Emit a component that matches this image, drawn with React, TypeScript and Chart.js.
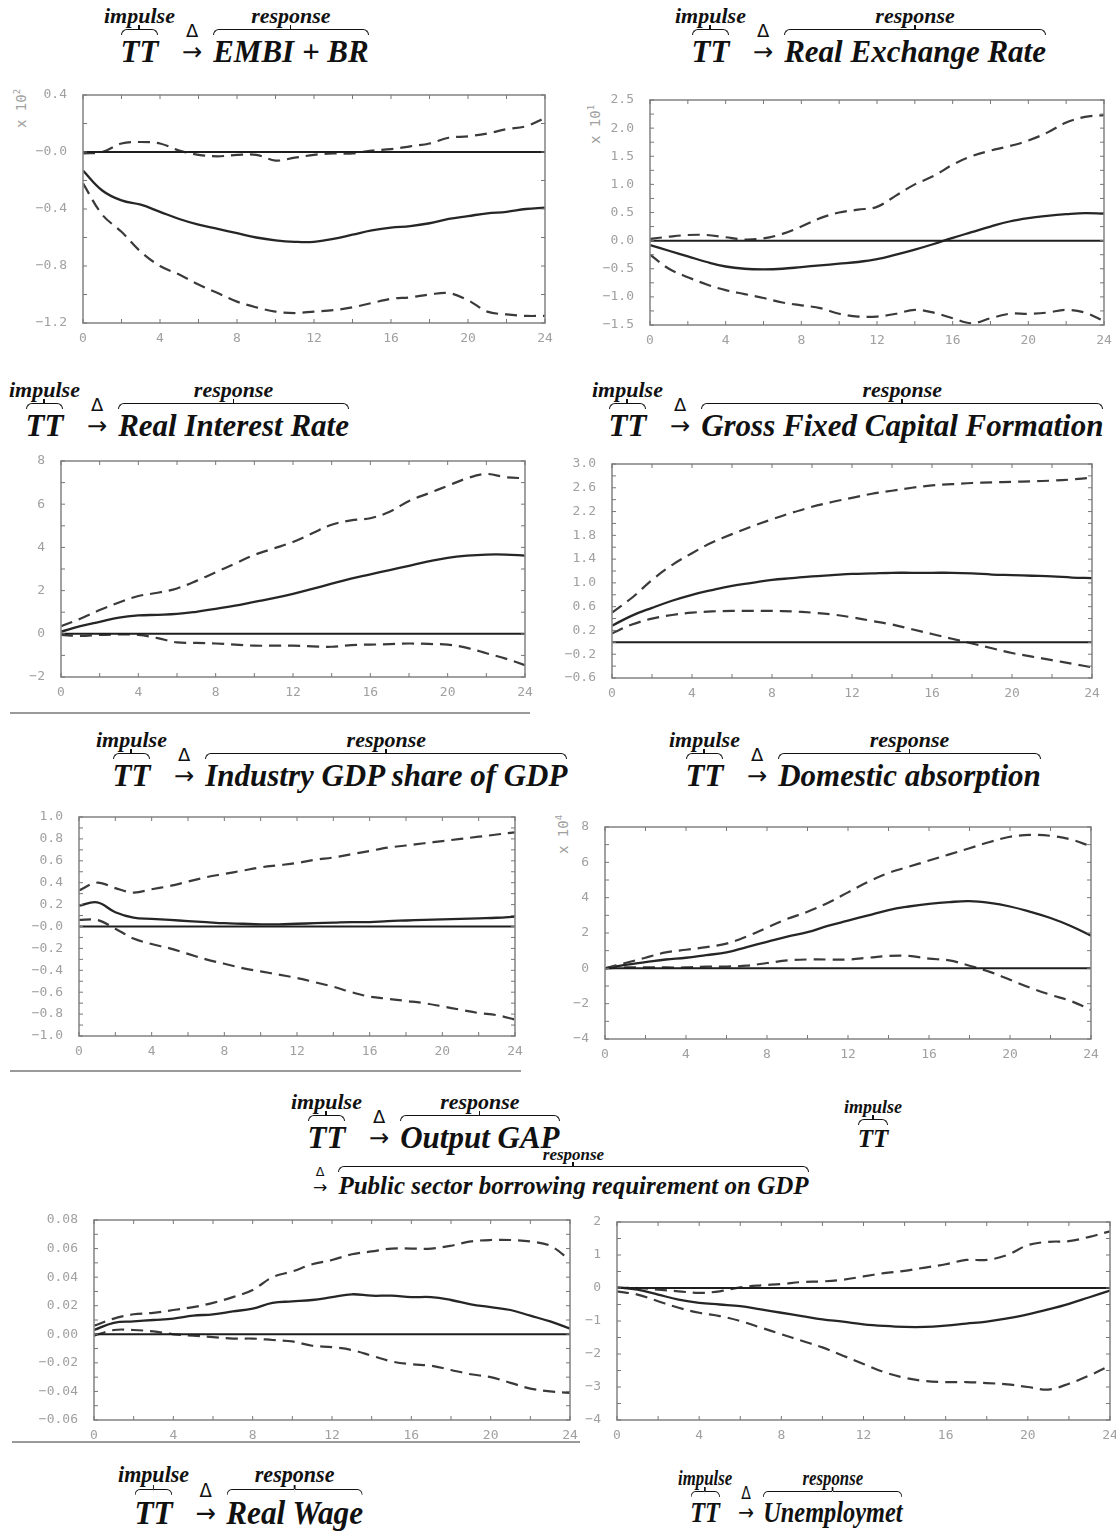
import { useEffect, useRef } from 'react';
import Chart from 'chart.js/auto';

// horizon (quarters) shared by every panel
const periods = [0, 1, 2, 3, 4, 5, 6, 7, 8, 9, 10, 11, 12, 13, 14, 15, 16, 17, 18, 19, 20, 21, 22, 23, 24];
const xTickValues = [0, 4, 8, 12, 16, 20, 24];
const xTickLabels = ['0', '4', '8', '12', '16', '20', '24'];

// EMBI + BR (x 10^2)
const embiMid = [-0.13, -0.27, -0.34, -0.37, -0.42, -0.47, -0.51, -0.54, -0.57, -0.6, -0.62, -0.63, -0.63, -0.61, -0.58, -0.55, -0.53, -0.52, -0.5, -0.47, -0.45, -0.43, -0.42, -0.4, -0.39];
const embiUp = [-0.01, 0.0, 0.06, 0.07, 0.06, 0.01, -0.02, -0.03, -0.02, -0.02, -0.06, -0.04, -0.02, -0.01, -0.01, 0.01, 0.02, 0.04, 0.06, 0.1, 0.11, 0.13, 0.16, 0.18, 0.24];
const embiLow = [-0.22, -0.44, -0.56, -0.7, -0.8, -0.86, -0.93, -0.99, -1.05, -1.09, -1.12, -1.13, -1.12, -1.11, -1.09, -1.06, -1.03, -1.02, -1.0, -0.99, -1.04, -1.12, -1.14, -1.15, -1.15];
const embiYLabels = ['0.4', '−0.0', '−0.4', '−0.8', '−1.2'];

// Real exchange rate (x 10^1)
const rerMid = [-0.08, -0.18, -0.28, -0.38, -0.46, -0.5, -0.51, -0.5, -0.47, -0.44, -0.41, -0.38, -0.33, -0.25, -0.16, -0.06, 0.05, 0.15, 0.25, 0.34, 0.4, 0.44, 0.47, 0.49, 0.48];
const rerUp = [0.03, 0.07, 0.1, 0.1, 0.06, 0.02, 0.04, 0.12, 0.25, 0.4, 0.5, 0.55, 0.6, 0.8, 1.0, 1.15, 1.35, 1.5, 1.6, 1.68, 1.78, 1.92, 2.1, 2.2, 2.23];
const rerLow = [-0.25, -0.5, -0.65, -0.78, -0.88, -0.95, -1.02, -1.1, -1.15, -1.2, -1.3, -1.35, -1.35, -1.3, -1.23, -1.28, -1.38, -1.47, -1.38, -1.3, -1.3, -1.28, -1.23, -1.28, -1.43];
const rerYLabels = ['2.5', '2.0', '1.5', '1.0', '0.5', '0.0', '−0.5', '−1.0', '−1.5'];

// Real interest rate
const rirMid = [0.1, 0.35, 0.55, 0.75, 0.85, 0.88, 0.92, 1.02, 1.15, 1.3, 1.48, 1.65, 1.85, 2.08, 2.32, 2.55, 2.75, 2.95, 3.15, 3.35, 3.52, 3.62, 3.67, 3.67, 3.62];
const rirUp = [0.35, 0.7, 1.1, 1.45, 1.75, 1.9, 2.1, 2.45, 2.85, 3.25, 3.65, 3.95, 4.25, 4.65, 5.05, 5.25, 5.35, 5.65, 6.15, 6.5, 6.85, 7.2, 7.4, 7.25, 7.2];
const rirLow = [-0.05, -0.1, -0.05, -0.03, -0.05, -0.2, -0.4, -0.42, -0.45, -0.5, -0.55, -0.55, -0.55, -0.58, -0.6, -0.52, -0.5, -0.48, -0.45, -0.47, -0.5, -0.65, -0.9, -1.15, -1.45];
const rirYLabels = ['8', '6', '4', '2', '0', '−2'];

// Gross fixed capital formation
const gfcfMid = [0.28, 0.45, 0.58, 0.7, 0.8, 0.88, 0.95, 1.0, 1.05, 1.08, 1.11, 1.13, 1.15, 1.16, 1.17, 1.17, 1.17, 1.17, 1.16, 1.14, 1.13, 1.12, 1.11, 1.09, 1.08];
const gfcfUp = [0.5, 0.75, 1.05, 1.3, 1.5, 1.68, 1.82, 1.95, 2.07, 2.18, 2.28, 2.36, 2.43, 2.5, 2.55, 2.6, 2.64, 2.66, 2.68, 2.69, 2.7, 2.71, 2.72, 2.74, 2.77];
const gfcfLow = [0.15, 0.3, 0.4, 0.46, 0.5, 0.52, 0.53, 0.53, 0.53, 0.52, 0.5, 0.47, 0.42, 0.36, 0.3, 0.22, 0.14, 0.06, -0.02, -0.1, -0.18, -0.24, -0.3, -0.36, -0.42];
const gfcfYLabels = ['3.0', '2.6', '2.2', '1.8', '1.4', '1.0', '0.6', '0.2', '−0.2', '−0.6'];

// Industry GDP share of GDP
const indMid = [0.19, 0.22, 0.13, 0.08, 0.07, 0.06, 0.05, 0.04, 0.03, 0.025, 0.02, 0.02, 0.025, 0.03, 0.035, 0.04, 0.04, 0.05, 0.055, 0.06, 0.065, 0.07, 0.075, 0.08, 0.09];
const indUp = [0.33, 0.4, 0.35, 0.31, 0.34, 0.37, 0.41, 0.45, 0.48, 0.51, 0.54, 0.56, 0.58, 0.61, 0.63, 0.66, 0.69, 0.72, 0.74, 0.76, 0.78, 0.8, 0.82, 0.84, 0.86];
const indLow = [0.06, 0.06, -0.02, -0.11, -0.16, -0.2, -0.25, -0.3, -0.34, -0.38, -0.41, -0.44, -0.47, -0.51, -0.55, -0.6, -0.64, -0.66, -0.68, -0.7, -0.73, -0.76, -0.79, -0.81, -0.85];
const indYLabels = ['1.0', '0.8', '0.6', '0.4', '0.2', '−0.0', '−0.2', '−0.4', '−0.6', '−0.8', '−1.0'];

// Domestic absorption (x 10^4)
const absMid = [0, 0.2, 0.35, 0.5, 0.6, 0.75, 0.9, 1.2, 1.5, 1.8, 2.05, 2.4, 2.7, 3.0, 3.3, 3.5, 3.65, 3.75, 3.8, 3.7, 3.5, 3.2, 2.85, 2.4, 1.85];
const absUp = [0, 0.3, 0.6, 0.9, 1.05, 1.2, 1.4, 1.8, 2.3, 2.8, 3.2, 3.7, 4.3, 4.9, 5.4, 5.75, 6.1, 6.45, 6.8, 7.15, 7.45, 7.55, 7.5, 7.3, 6.9];
const absLow = [0, 0.05, 0.05, 0.05, 0.05, 0.1, 0.1, 0.15, 0.3, 0.45, 0.5, 0.5, 0.5, 0.6, 0.7, 0.7, 0.55, 0.45, 0.15, -0.2, -0.65, -1.1, -1.5, -1.85, -2.35];
const absYLabels = ['8', '6', '4', '2', '0', '−2', '−4'];

// Output gap
const gapMid = [0.003, 0.008, 0.009, 0.01, 0.011, 0.013, 0.014, 0.016, 0.018, 0.022, 0.023, 0.024, 0.026, 0.028, 0.027, 0.027, 0.026, 0.026, 0.024, 0.021, 0.019, 0.017, 0.013, 0.009, 0.004];
const gapUp = [0.006, 0.011, 0.014, 0.015, 0.017, 0.019, 0.022, 0.026, 0.031, 0.04, 0.044, 0.049, 0.052, 0.056, 0.058, 0.06, 0.06, 0.06, 0.062, 0.065, 0.066, 0.066, 0.065, 0.062, 0.052];
const gapLow = [-0.001, 0.003, 0.003, 0.002, 0.0, -0.001, -0.002, -0.003, -0.003, -0.004, -0.005, -0.008, -0.009, -0.011, -0.015, -0.019, -0.021, -0.022, -0.025, -0.028, -0.03, -0.034, -0.038, -0.04, -0.041];
const gapYLabels = ['0.08', '0.06', '0.04', '0.02', '0.00', '−0.02', '−0.04', '−0.06'];

// Public sector borrowing requirement on GDP
const psbrMid = [0.02, -0.05, -0.2, -0.35, -0.45, -0.5, -0.55, -0.65, -0.75, -0.85, -0.95, -1.02, -1.1, -1.15, -1.18, -1.18, -1.14, -1.08, -1.02, -0.92, -0.8, -0.65, -0.48, -0.28, -0.08];
const psbrUp = [0.0, 0.0, -0.05, -0.1, -0.15, -0.1, 0.02, 0.08, 0.12, 0.18, 0.2, 0.25, 0.35, 0.45, 0.52, 0.62, 0.72, 0.85, 0.85, 1.0, 1.3, 1.4, 1.42, 1.55, 1.72];
const psbrLow = [-0.1, -0.2, -0.4, -0.6, -0.75, -0.85, -1.0, -1.2, -1.4, -1.6, -1.8, -2.05, -2.3, -2.55, -2.72, -2.82, -2.85, -2.85, -2.88, -2.92, -3.0, -3.08, -2.9, -2.65, -2.35];
const psbrYLabels = ['2', '1', '0', '−1', '−2', '−3', '−4'];

const AXIS_W = 60;
const AXIS_H = 26;
const PAD_TOP = 10;
const PAD_RIGHT = 12;
const SERIF = '"Liberation Serif", "DejaVu Serif", serif';
const MONO = '"DejaVu Sans Mono", monospace';

const framePlugin = {
  id: 'irfFrame',
  afterDatasetsDraw(chart: any) {
    const { ctx, chartArea: a, scales } = chart;
    const x = scales.x;
    const y = scales.y;
    ctx.save();
    // zero reference line
    const y0 = y.getPixelForValue(0);
    ctx.strokeStyle = '#1e1e1e';
    ctx.lineWidth = 2;
    ctx.beginPath();
    ctx.moveTo(a.left, y0);
    ctx.lineTo(a.right, y0);
    ctx.stroke();
    // frame
    ctx.strokeStyle = '#8a8a8a';
    ctx.lineWidth = 1.6;
    ctx.strokeRect(a.left, a.top, a.right - a.left, a.bottom - a.top);
    // inward tick marks
    ctx.lineWidth = 1;
    ctx.strokeStyle = '#777';
    ctx.beginPath();
    for (let v = 0; v <= 24; v += 2) {
      const px = x.getPixelForValue(v);
      ctx.moveTo(px, a.bottom);
      ctx.lineTo(px, a.bottom - 4);
      ctx.moveTo(px, a.top);
      ctx.lineTo(px, a.top + 4);
    }
    const vals: number[] = chart.options.plugins.irfFrame.minor;
    vals.forEach((v) => {
      const py = y.getPixelForValue(v);
      ctx.moveTo(a.left, py);
      ctx.lineTo(a.left + 4, py);
      ctx.moveTo(a.right, py);
      ctx.lineTo(a.right - 4, py);
    });
    ctx.stroke();
    ctx.restore();
  },
};

interface PanelProps {
  area: [number, number, number, number];
  yMin: number;
  yMax: number;
  yLabels: string[];
  mid: number[];
  upper: number[];
  lower: number[];
}

const Panel = ({ area, yMin, yMax, yLabels, mid, upper, lower }: PanelProps) => {
  const canvasRef = useRef<HTMLCanvasElement>(null);
  const chartRef = useRef<Chart | null>(null);
  const [pl, pt, pr, pb] = area;

  useEffect(() => {
    if (chartRef.current) chartRef.current.destroy();
    if (!canvasRef.current) return;
    const n = yLabels.length - 1;
    const step = (yMax - yMin) / n;
    const yValues = yLabels.map((_, i) => yMin + i * step);
    const minor: number[] = [];
    for (let i = 0; i <= n * 2; i++) minor.push(yMin + (i * step) / 2);
    const bottomUp = [...yLabels].reverse();
    const toPoints = (arr: number[]) => arr.map((v, i) => ({ x: periods[i], y: v }));
    const dashed = {
      borderColor: '#3a3a3a',
      borderWidth: 2.2,
      borderDash: [12, 7],
      pointRadius: 0,
      tension: 0.35,
      fill: false,
    };
    chartRef.current = new Chart(canvasRef.current, {
      type: 'line',
      data: {
        datasets: [
          { label: 'upper', data: toPoints(upper), ...dashed },
          { label: 'lower', data: toPoints(lower), ...dashed },
          {
            label: 'response',
            data: toPoints(mid),
            borderColor: '#262626',
            borderWidth: 2.3,
            pointRadius: 0,
            tension: 0.4,
            fill: false,
          },
        ],
      },
      options: {
        animation: false,
        responsive: true,
        maintainAspectRatio: false,
        layout: { padding: { top: PAD_TOP, right: PAD_RIGHT, left: 0, bottom: 0 } },
        plugins: {
          legend: { display: false },
          tooltip: { enabled: false },
          irfFrame: { minor },
        } as any,
        scales: {
          x: {
            type: 'linear',
            min: 0,
            max: 24,
            grid: { display: false },
            border: { display: false },
            afterBuildTicks: (s: any) => {
              s.ticks = xTickValues.map((v) => ({ value: v }));
            },
            afterFit: (s: any) => {
              s.height = AXIS_H;
              s.paddingLeft = 0;
              s.paddingRight = 0;
            },
            ticks: {
              autoSkip: false,
              maxRotation: 0,
              padding: 0,
              color: '#a0a0a0',
              font: { family: MONO, size: 13 },
              callback: (_v: any, i: number) => xTickLabels[i],
            },
          },
          y: {
            type: 'linear',
            min: yMin,
            max: yMax,
            grid: { display: false },
            border: { display: false },
            afterBuildTicks: (s: any) => {
              s.ticks = yValues.map((v) => ({ value: v }));
            },
            afterFit: (s: any) => {
              s.width = AXIS_W;
              s.paddingTop = 0;
              s.paddingBottom = 0;
            },
            ticks: {
              autoSkip: false,
              padding: 8,
              color: '#a0a0a0',
              font: { family: MONO, size: 13 },
              callback: (_v: any, i: number) => bottomUp[i],
            },
          },
        },
      } as any,
      plugins: [framePlugin],
    });
    return () => {
      if (chartRef.current) {
        chartRef.current.destroy();
        chartRef.current = null;
      }
    };
  }, [yMin, yMax, yLabels, mid, upper, lower]);

  return (
    <div
      style={{
        position: 'absolute',
        left: pl - AXIS_W,
        top: pt - PAD_TOP,
        width: pr - pl + AXIS_W + PAD_RIGHT,
        height: pb - pt + PAD_TOP + AXIS_H,
      }}
    >
      <canvas ref={canvasRef} />
    </div>
  );
};

const Brace = () => (
  <div style={{ display: 'flex', height: 6, marginBottom: 1 }}>
    <div style={{ flex: 1, borderTop: '1.5px solid #111', borderLeft: '1.5px solid #111', borderTopLeftRadius: 6 }} />
    <div style={{ width: 0, position: 'relative' }}>
      <div style={{ position: 'absolute', left: -1, top: -4, width: 1.5, height: 4, background: '#111' }} />
    </div>
    <div style={{ flex: 1, borderTop: '1.5px solid #111', borderRight: '1.5px solid #111', borderTopRightRadius: 6 }} />
  </div>
);

const Stack = ({ label, text, labelSize, textSize }: { label: string; text: string; labelSize: number; textSize: number }) => (
  <div style={{ display: 'flex', flexDirection: 'column', alignItems: 'center' }}>
    <div style={{ fontSize: labelSize, lineHeight: 1.05, marginBottom: 2 }}>{label}</div>
    <div style={{ display: 'inline-block' }}>
      <Brace />
      <div style={{ fontSize: textSize, lineHeight: 1 }}>{text}</div>
    </div>
  </div>
);

const Arrow = ({ size }: { size: number }) => (
  <div style={{ display: 'flex', flexDirection: 'column', alignItems: 'center', fontStyle: 'normal', fontWeight: 'normal', fontFamily: '"DejaVu Sans", sans-serif', margin: '0 11px 0 7px' }}>
    <div style={{ fontSize: size * 0.58, lineHeight: 1 }}>Δ</div>
    <div style={{ fontSize: size * 0.78, lineHeight: 1, marginBottom: size * 0.1 }}>→</div>
  </div>
);

const baseText = {
  position: 'absolute' as const,
  display: 'flex',
  alignItems: 'flex-end',
  fontFamily: SERIF,
  fontWeight: 'bold' as const,
  fontStyle: 'italic' as const,
  color: '#111',
  whiteSpace: 'nowrap' as const,
  transformOrigin: 'left top',
};

const Formula = ({ x, y, name, size = 31, label = 22, sx = 1 }: { x: number; y: number; name: string; size?: number; label?: number; sx?: number }) => (
  <div style={{ ...baseText, left: x, top: y, transform: `scaleX(${sx})` }}>
    <Stack label="impulse" text="TT" labelSize={label} textSize={size} />
    <Arrow size={size} />
    <Stack label="response" text={name} labelSize={label} textSize={size} />
  </div>
);

const Exponent = ({ x, y, power }: { x: number; y: number; power: string }) => (
  <div
    style={{
      position: 'absolute',
      left: x,
      top: y,
      transform: 'rotate(-90deg)',
      transformOrigin: 'left top',
      fontFamily: MONO,
      fontSize: 14,
      color: '#a0a0a0',
      whiteSpace: 'nowrap',
    }}
  >
    x 10<sup style={{ fontSize: 9 }}>{power}</sup>
  </div>
);

const Rule = ({ x1, x2, y }: { x1: number; x2: number; y: number }) => (
  <div style={{ position: 'absolute', left: x1, top: y, width: x2 - x1, height: 1.5, background: '#9a9a9a' }} />
);

export default function App() {
  return (
    <div style={{ position: 'absolute', left: 0, top: 0, width: 1116, height: 1531, overflow: 'hidden', background: '#fff' }}>
      <Formula x={104} y={4} name="EMBI + BR" />
      <Formula x={675} y={4} name="Real Exchange Rate" />
      <Formula x={9} y={378} name="Real Interest Rate" />
      <Formula x={592} y={378} name="Gross Fixed Capital Formation" />
      <Formula x={96} y={728} name="Industry GDP share of GDP" />
      <Formula x={669} y={728} name="Domestic absorption" />
      <Formula x={291} y={1090} name="Output GAP" />

      <div style={{ ...baseText, left: 306, top: 1146 }}>
        <Arrow size={22} />
        <Stack label="response" text="Public sector borrowing requirement on GDP" labelSize={17} textSize={25} />
      </div>
      <div style={{ ...baseText, left: 844, top: 1098 }}>
        <Stack label="impulse" text="TT" labelSize={18} textSize={25} />
      </div>

      <Formula x={118} y={1462} name="Real Wage" size={34} label={24} sx={0.92} />
      <Formula x={678} y={1468} name="Unemploymet" size={29} label={20} sx={0.84} />

      <Exponent x={12} y={128} power="2" />
      <Exponent x={586} y={144} power="1" />
      <Exponent x={554} y={854} power="4" />

      <Rule x1={10} x2={530} y={712} />
      <Rule x1={10} x2={521} y={1070} />
      <Rule x1={12} x2={580} y={1441} />

      <Panel area={[83, 95, 545, 323]} yMin={-1.2} yMax={0.4} yLabels={embiYLabels} mid={embiMid} upper={embiUp} lower={embiLow} />
      <Panel area={[650, 100, 1104, 325]} yMin={-1.5} yMax={2.5} yLabels={rerYLabels} mid={rerMid} upper={rerUp} lower={rerLow} />
      <Panel area={[61, 461, 525, 677]} yMin={-2} yMax={8} yLabels={rirYLabels} mid={rirMid} upper={rirUp} lower={rirLow} />
      <Panel area={[612, 464, 1092, 678]} yMin={-0.6} yMax={3.0} yLabels={gfcfYLabels} mid={gfcfMid} upper={gfcfUp} lower={gfcfLow} />
      <Panel area={[79, 817, 515, 1036]} yMin={-1.0} yMax={1.0} yLabels={indYLabels} mid={indMid} upper={indUp} lower={indLow} />
      <Panel area={[605, 827, 1091, 1039]} yMin={-4} yMax={8} yLabels={absYLabels} mid={absMid} upper={absUp} lower={absLow} />
      <Panel area={[94, 1220, 570, 1420]} yMin={-0.06} yMax={0.08} yLabels={gapYLabels} mid={gapMid} upper={gapUp} lower={gapLow} />
      <Panel area={[617, 1222, 1110, 1420]} yMin={-4} yMax={2} yLabels={psbrYLabels} mid={psbrMid} upper={psbrUp} lower={psbrLow} />
    </div>
  );
}
